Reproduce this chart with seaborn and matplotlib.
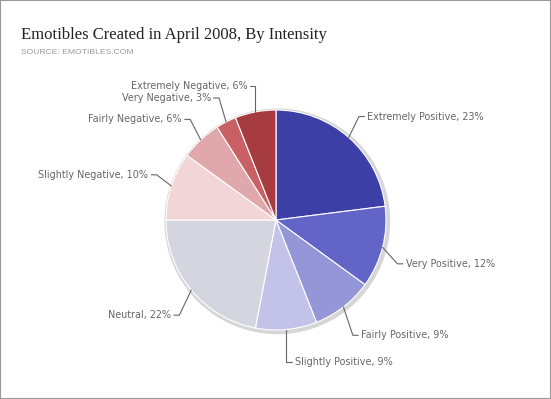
import numpy as np
import matplotlib
matplotlib.use("Agg")
import matplotlib.pyplot as plt
import seaborn as sns
from matplotlib.patches import Rectangle, Circle

# data
categories = ["Extremely Positive", "Very Positive", "Fairly Positive", "Slightly Positive",
              "Neutral", "Slightly Negative", "Fairly Negative", "Very Negative",
              "Extremely Negative"]
percents = [23, 12, 9, 9, 22, 10, 6, 3, 6]
colors = ["#3b3fa6", "#6264c8", "#9596d8", "#c3c3ea", "#d5d5e0",
          "#f2d5d7", "#e0a8aa", "#c86064", "#a63b40"]

title = "Emotibles Created in April 2008, By Intensity"
source = "SOURCE: EMOTIBLES.COM"

sns.set_theme(style="white")
plt.rcParams["font.family"] = ["DejaVu Sans"]

W, H = 551, 399
fig = plt.figure(figsize=(W / 100, H / 100), dpi=100)
ax = fig.add_axes([0, 0, 1, 1])

# pie centre and radius in pixels
cx, cy, R = 276, 220, 110

# soft shadow behind the pie
ax.add_patch(Circle((0.012, -0.012), 1.02, color="#d6d6d6", zorder=0))

wedges, _ = ax.pie(percents, colors=colors, startangle=90, counterclock=False,
                   radius=1.0, center=(0, 0), frame=False,
                   wedgeprops=dict(edgecolor="white", linewidth=0.8))
ax.set_xlim(-cx / R, (W - cx) / R)
ax.set_ylim(-(H - cy) / R, cy / R)
ax.axis("off")

# leader lines and labels (elbow style)
for w, name, p in zip(wedges, categories, percents):
    mid = np.deg2rad((w.theta1 + w.theta2) / 2)
    ex, ey = np.cos(mid), np.sin(mid)
    kx = 1.14 * ex
    ky = 1.2 * ey + (0.04 if ey > 0 else -0.1)
    if abs(ex) < 0.2:
        kx = ex
    side = 1 if kx >= 0 else -1
    tx = kx + side * 0.05
    ax.plot([ex, kx, tx], [ey, ky, ky], color="#666666", lw=0.8, zorder=3)
    ax.text(tx + side * 0.025, ky, f"{name}, {p}%", ha="left" if side > 0 else "right",
            va="center", fontsize=6.9, color="#666666")

fig.text(21 / W, 1 - 35 / H, title, family="Liberation Serif", fontsize=12,
         color="#222222", ha="left", va="center")
fig.text(21 / W, 1 - 52 / H, source, family="Liberation Sans", fontsize=6.1,
         color="#999999", ha="left", va="center")

fig.patches.append(Rectangle((0, 0), 1, 1, transform=fig.transFigure, fill=False,
                             edgecolor="#999999", linewidth=1.5))

fig.savefig("out.png", dpi=100)
